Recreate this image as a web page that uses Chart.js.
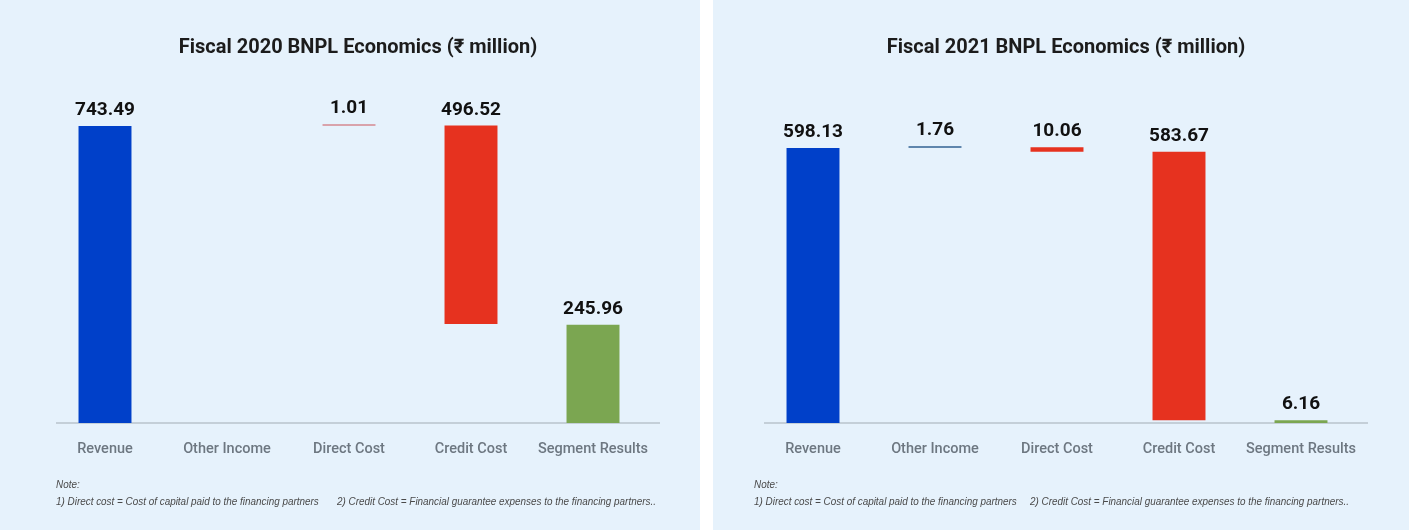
<!DOCTYPE html>
<html>
<head>
<meta charset="utf-8">
<script src="https://cdn.jsdelivr.net/npm/chart.js@4/dist/chart.umd.min.js"></script>
<style>
  html, body { margin: 0; padding: 0; background: #fff; }
  body { width: 1416px; height: 530px; position: relative; overflow: hidden; font-family: Roboto, "Noto Sans", sans-serif; }
  .panel { position: absolute; top: 0; height: 530px; background: #e6f2fc; }
  .panel canvas { position: absolute; left: 0; top: 0; }
  .title { position: absolute; top: 34px; font-weight: 700; font-size: 20px; color: #1c1c1c; white-space: nowrap; transform: translateX(-50%); }
  .note { position: absolute; font-family: "Liberation Sans Narrow", "Liberation Sans", sans-serif; font-style: italic; font-size: 11px; color: #4a4a4a; white-space: nowrap; transform: scaleX(0.9); transform-origin: left center; }
</style>
</head>
<body>
<div class="panel" id="p20" style="left:0;width:700px;">
  <canvas id="c20" width="700" height="530"></canvas>
  <div class="title" style="left:358px;">Fiscal 2020 BNPL Economics (₹ million)</div>
  <div class="note" style="left:56px;top:478px;">Note:</div>
  <div class="note" style="left:56px;top:495px;">1) Direct cost = Cost of capital paid to the financing partners</div>
  <div class="note" style="left:337px;top:495px;">2) Credit Cost = Financial guarantee expenses to the financing partners..</div>
</div>
<div class="panel" id="p21" style="left:713px;width:696px;">
  <canvas id="c21" width="696" height="530"></canvas>
  <div class="title" style="left:353px;">Fiscal 2021 BNPL Economics (₹ million)</div>
  <div class="note" style="left:41px;top:478px;">Note:</div>
  <div class="note" style="left:41px;top:495px;">1) Direct cost = Cost of capital paid to the financing partners</div>
  <div class="note" style="left:317px;top:495px;">2) Credit Cost = Financial guarantee expenses to the financing partners..</div>
</div>
<script>
const categories = ["Revenue", "Other Income", "Direct Cost", "Credit Cost", "Segment Results"];

// FY2020 (other income not shown)
const fy20Values = [743.49, null, 1.01, 496.52, 245.96];
const fy20Low = [0, null, 743.49, 247.98, 0];
const fy20High = [743.49, null, 744.50, 744.50, 245.96];
const fy20Colors = ["#0040c9", "rgba(0,0,0,0)", "#d9a3ab", "#e6321f", "#7ba651"];

// FY2021
const fy21Values = [598.13, 1.76, 10.06, 583.67, 6.16];
const fy21Low = [0, 598.13, 589.83, 6.16, 0];
const fy21High = [598.13, 599.89, 599.89, 589.83, 6.16];
const fy21Colors = ["#0040c9", "#5f86ad", "#e6321f", "#e6321f", "#7ba651"];

// value labels above each bar
const valueLabels = {
    id: "valueLabels",
    afterDatasetsDraw(chart, args, opts) {
        const ctx = chart.ctx;
        const meta = chart.getDatasetMeta(0);
        ctx.save();
        ctx.font = "700 19px Roboto, sans-serif";
        ctx.fillStyle = "#111";
        ctx.textAlign = "center";
        ctx.textBaseline = "bottom";
        meta.data.forEach((el, i) => {
            const v = opts.values[i];
            if (v == null) return;
            const top = Math.min(el.y, el.base);
            ctx.fillText(v.toFixed(2), el.x, top - 6);
        });
        ctx.restore();
    }
};

// baseline under the bars
const baseLine = {
    id: "baseLine",
    beforeDatasetsDraw(chart) {
        const ctx = chart.ctx;
        const y = chart.scales.y.getPixelForValue(0);
        ctx.save();
        ctx.strokeStyle = "#b8c3cc";
        ctx.lineWidth = 1.5;
        ctx.beginPath();
        ctx.moveTo(chart.chartArea.left + 12, y);
        ctx.lineTo(chart.chartArea.right + 6, y);
        ctx.stroke();
        ctx.restore();
    }
};

function makeChart(id, low, high, values, colors, yMax, padLeft, padRight) {
    new Chart(document.getElementById(id), {
        type: "bar",
        data: {
            labels: categories,
            datasets: [{
                data: low.map((l, i) => l == null ? null : [l, high[i]]),
                backgroundColor: colors,
                barPercentage: 0.434,
                categoryPercentage: 1,
                minBarLength: 2
            }]
        },
        options: {
            responsive: false,
            animation: false,
            layout: { padding: { left: padLeft, right: padRight, top: 100, bottom: 0 } },
            plugins: {
                legend: { display: false },
                tooltip: { enabled: false },
                valueLabels: { values: values }
            },
            scales: {
                x: {
                    grid: { display: false },
                    border: { display: false },
                    ticks: {
                        color: "#6d7781",
                        font: { family: "Roboto", size: 14.5, weight: 500 },
                        padding: 10,
                        maxRotation: 0
                    },
                    afterFit: s => { s.height = 107; }
                },
                y: { display: false, min: 0, max: yMax }
            }
        },
        plugins: [valueLabels, baseLine]
    });
}

makeChart("c20", fy20Low, fy20High, fy20Values, fy20Colors, 808.5, 44, 46);
makeChart("c21", fy21Low, fy21High, fy21Values, fy21Colors, 702.5, 39, 47);
</script>
</body>
</html>
